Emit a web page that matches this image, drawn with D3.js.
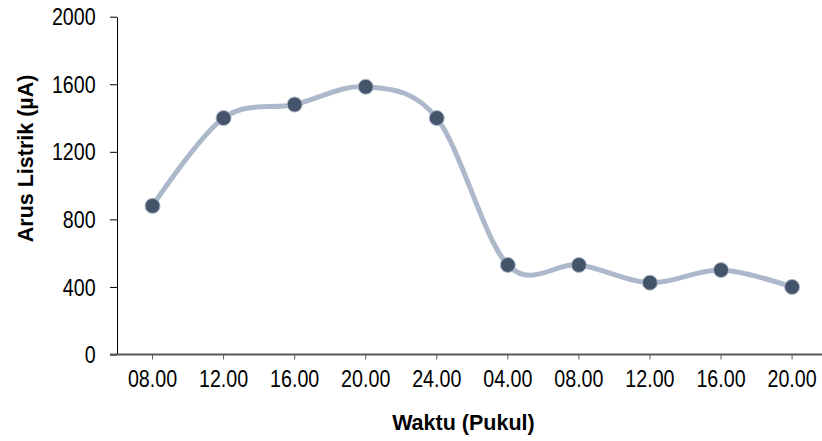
<!DOCTYPE html>
<html>
<head>
<meta charset="utf-8">
<script src="https://cdn.jsdelivr.net/npm/d3@7"></script>
<style>
  body { margin: 0; background: #fff; }
  svg { display: block; font-family: "Liberation Sans", Arial, sans-serif; }
</style>
</head>
<body>
<svg id="chart"></svg>
<script>
const categories = ["08.00", "12.00", "16.00", "20.00", "24.00", "04.00", "08.00", "12.00", "16.00", "20.00"];
const current = [880, 1400, 1480, 1585, 1400, 530, 530, 425, 500, 400];
const yTicks = [0, 400, 800, 1200, 1600, 2000];

const width = 822, height = 441;
const plotLeft = 117, plotTop = 16.7, plotBottom = 354.5;

const svg = d3.select("#chart")
  .attr("width", width)
  .attr("height", height);

const x = d3.scaleBand()
  .domain(d3.range(categories.length))
  .range([plotLeft, plotLeft + 710.6]);

const y = d3.scaleLinear()
  .domain([0, 2000])
  .range([plotBottom, plotTop]);

// condensed look of the tick labels (Arial Narrow ~ Arial at 82% width)
const narrow = "scale(0.82,1)";

const yAxis = svg.append("g")
  .attr("transform", `translate(${plotLeft},0)`)
  .call(d3.axisLeft(y).tickValues(yTicks).tickFormat(d3.format("d")).tickSize(7).tickSizeOuter(0));
yAxis.select(".domain").attr("stroke", "#000");
yAxis.selectAll(".tick line").attr("stroke", "#000");
yAxis.selectAll(".tick text")
  .attr("x", -26)
  .attr("dy", "0.34em")
  .attr("transform", narrow)
  .style("font-size", "24px")
  .attr("fill", "#000");

const xAxis = svg.append("g")
  .attr("transform", `translate(0,${plotBottom})`)
  .call(d3.axisBottom(x).tickFormat(i => categories[i]).tickSize(5).tickSizeOuter(0));
xAxis.select(".domain")
  .attr("d", `M${plotLeft - 7},0H${plotLeft + 710.6}`)
  .attr("stroke", "#595959")
  .attr("stroke-width", 2);
xAxis.selectAll(".tick line").attr("stroke", "#595959");
xAxis.selectAll(".tick text")
  .attr("y", 33)
  .attr("dy", 0)
  .attr("transform", narrow)
  .style("font-size", "24px")
  .attr("fill", "#000");

const line = d3.line()
  .x((d, i) => x(i) + x.bandwidth() / 2)
  .y(d => y(d))
  .curve(d3.curveCatmullRom.alpha(0));

svg.append("path")
  .datum(current)
  .attr("d", line)
  .attr("fill", "none")
  .attr("stroke", "#adb9ca")
  .attr("stroke-width", 5)
  .attr("stroke-linecap", "round");

svg.selectAll(".dot")
  .data(current)
  .enter()
  .append("circle")
  .attr("class", "dot")
  .attr("cx", (d, i) => x(i) + x.bandwidth() / 2)
  .attr("cy", d => y(d))
  .attr("r", 7.5)
  .attr("fill", "#44546a")
  .attr("stroke", "#adb9ca")
  .attr("stroke-width", 1);

svg.append("text")
  .attr("x", 463.4)
  .attr("y", 430)
  .attr("text-anchor", "middle")
  .style("font-size", "21.5px")
  .style("font-weight", "bold")
  .text("Waktu (Pukul)");

svg.append("text")
  .attr("transform", "translate(33,158.4) rotate(-90)")
  .attr("text-anchor", "middle")
  .style("font-size", "21.5px")
  .style("font-weight", "bold")
  .text("Arus Listrik (µA)");
</script>
</body>
</html>
